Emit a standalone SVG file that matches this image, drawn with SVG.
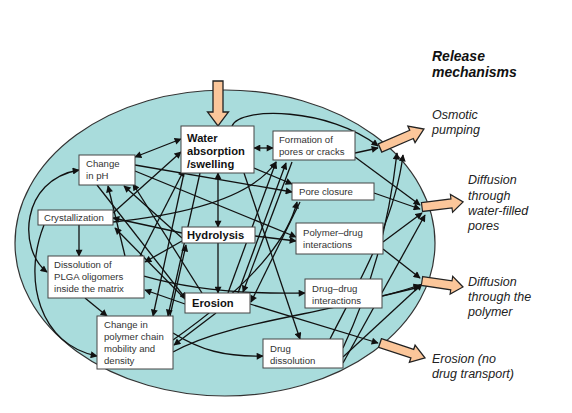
<svg xmlns="http://www.w3.org/2000/svg" width="572" height="413" viewBox="0 0 572 413">
<style>
.c{fill:none;stroke:#111;stroke-width:1.3}
.a{marker-end:url(#ah)}
.b{marker-start:url(#ah);marker-end:url(#ah)}
.box{fill:#fff;stroke:#444;stroke-width:1}
.t{font-family:"Liberation Sans",Arial,sans-serif;font-size:9.6px;fill:#333}
.tb{font-family:"Liberation Sans",Arial,sans-serif;font-size:11.2px;font-weight:bold;fill:#111}
.ti{font-family:"Liberation Sans",Arial,sans-serif;font-size:12.5px;font-style:italic;fill:#222}
.th{font-family:"Liberation Sans",Arial,sans-serif;font-size:14px;font-style:italic;font-weight:bold;fill:#111}
.fat{fill:#fbc69a;stroke:#222;stroke-width:1.3}
</style>
<defs>
<marker id="ah" viewBox="0 0 10 10" refX="9" refY="5" markerWidth="8" markerHeight="7" orient="auto-start-reverse" markerUnits="userSpaceOnUse"><path d="M0,0 L10,5 L0,10 z" fill="#111"/></marker>
<path id="fa" d="M0,-4.5 H33 V-9 L46,0 L33,9 V4.5 H0 Z"/>
</defs>
<rect width="572" height="413" fill="#fff"/>
<ellipse id="matrix" cx="225" cy="243" rx="210" ry="153" fill="#a9dcdc" stroke="#333" stroke-width="1.2"/>

<g id="connectors">
<path class="c b" d="M135,157 L181,139"/>
<path class="c b" d="M254,148 L273,148"/>
<path class="c b" d="M218,173 L218,227"/>
<path class="c a" d="M218,243 L218,293"/>
<path class="c a" d="M79,225 L79,256"/>
<path class="c a" d="M85,298 L107,316"/>
<path class="c a" d="M216,313 L174,345"/>
<path class="c a" d="M232,126 C240,106 330,108 378,146"/>
<path class="c a" d="M355,153 L378,148"/>
<path class="c a" d="M355,157 L420,205"/>
<path class="c a" d="M374,193 L420,209"/>
<path class="c a" d="M383,242 L422,213"/>
<path class="c a" d="M383,249 L420,278"/>
<path class="c a" d="M382,296 L420,287"/>
<path class="c a" d="M343,363 L425,215"/>
<path class="c a" d="M343,357 L422,284"/>
<path class="c a" d="M343,348 C370,290 388,230 397,153"/>
<path class="c a" d="M330,339 C360,280 395,220 403,155"/>
<path class="c a" d="M250,304 L378,343"/>
<path class="c a" d="M135,165 L292,192"/>
<path class="c a" d="M135,171 L296,237"/>
<path class="c a" d="M254,168 L292,184"/>
<path class="c a" d="M255,236 L296,241"/>
<path class="c a" d="M144,276 C200,292 260,294 305,293"/>
<path class="c a" d="M244,173 L300,339"/>
<path class="c a" d="M228,293 L276,162"/>
<path class="c a" d="M238,293 L286,163"/>
<path class="c a" d="M292,162 L243,292"/>
<path class="c a" d="M300,202 L251,302"/>
<path class="c a" d="M182,233 L113,218"/>
<path class="c a" d="M186,300 L115,228"/>
<path class="c a" d="M185,304 L145,290"/>
<path class="c a" d="M182,241 L145,262"/>
<path class="c a" d="M184,173 L153,316"/>
<path class="c a" d="M200,173 L168,316"/>
<path class="c a" d="M170,316 L186,245"/>
<path class="c a" d="M125,256 L108,186"/>
<path class="c a" d="M182,238 L124,186"/>
<path class="c a" d="M202,293 L133,184"/>
<path class="c a" d="M97,185 L186,299"/>
<path class="c a" d="M113,213 L181,152"/>
<path class="c a" d="M140,256 L184,170"/>
<path class="c a" d="M113,222 C180,215 250,200 276,162"/>
<path class="c a" d="M44,225 C22,280 40,345 97,356"/>
<path class="c b" d="M47,272 C18,250 20,180 79,170"/>
<path class="c a" d="M173,352 C230,320 330,315 420,285"/>
<path class="c a" d="M173,333 C200,350 225,357 263,356"/>
<path class="c a" d="M173,340 C230,300 285,250 297,202"/>
</g>

<g id="water-arrow"><path class="fat" d="M213,81 H223 V112 H228.5 L218,126 L207.5,112 H213 Z"/></g>
<g id="release-arrows">
<use href="#fa" class="fat" transform="translate(380,148) rotate(-23.4) scale(1.04,1)" style="vector-effect:non-scaling-stroke"/>
<use href="#fa" class="fat" transform="translate(422,207) rotate(-7) scale(0.9,1)"/>
<use href="#fa" class="fat" transform="translate(422,281) rotate(8.3) scale(0.9,1)"/>
<use href="#fa" class="fat" transform="translate(380,343) rotate(18.4) scale(1.03,1)"/>
</g>

<g id="water"><rect class="box" x="181" y="126" width="73" height="47"/><text class="tb" x="187" y="142">Water</text><text class="tb" x="187" y="155">absorption</text><text class="tb" x="187" y="168">/swelling</text></g>
<g id="pores"><rect class="box" x="273" y="131" width="82" height="29"/><text class="t" x="279" y="143">Formation of</text><text class="t" x="279" y="155">pores or cracks</text></g>
<g id="ph"><rect class="box" x="79" y="155" width="56" height="30"/><text class="t" x="86" y="167">Change</text><text class="t" x="86" y="179">in pH</text></g>
<g id="closure"><rect class="box" x="292" y="183" width="82" height="17"/><text class="t" x="299" y="195">Pore closure</text></g>
<g id="crystal"><rect class="box" x="38" y="210" width="75" height="15"/><text class="t" x="44" y="221">Crystallization</text></g>
<g id="hydrolysis"><rect class="box" x="182" y="227" width="73" height="16"/><text class="tb" x="187" y="239">Hydrolysis</text></g>
<g id="polydrug"><rect class="box" x="296" y="223" width="87" height="31"/><text class="t" x="303" y="236">Polymer–drug</text><text class="t" x="303" y="248">interactions</text></g>
<g id="dissol"><rect class="box" x="48" y="256" width="96" height="42"/><text class="t" x="54" y="268">Dissolution of</text><text class="t" x="54" y="280">PLGA oligomers</text><text class="t" x="54" y="292">inside the matrix</text></g>
<g id="drugdrug"><rect class="box" x="305" y="279" width="77" height="29"/><text class="t" x="312" y="292">Drug–drug</text><text class="t" x="312" y="304">interactions</text></g>
<g id="erosion"><rect class="box" x="185" y="293" width="65" height="20"/><text class="tb" x="192" y="307">Erosion</text></g>
<g id="chain"><rect class="box" x="97" y="316" width="76" height="53"/><text class="t" x="104" y="328">Change in</text><text class="t" x="104" y="340">polymer chain</text><text class="t" x="104" y="352">mobility and</text><text class="t" x="104" y="364">density</text></g>
<g id="drugdis"><rect class="box" x="263" y="339" width="80" height="29"/><text class="t" x="270" y="352">Drug</text><text class="t" x="270" y="364">dissolution</text></g>

<g id="labels">
<text class="th" x="432" y="61">Release</text>
<text class="th" x="432" y="77">mechanisms</text>
<text class="ti" x="432" y="119">Osmotic</text>
<text class="ti" x="432" y="134">pumping</text>
<text class="ti" x="468" y="184">Diffusion</text>
<text class="ti" x="468" y="200">through</text>
<text class="ti" x="468" y="215">water-filled</text>
<text class="ti" x="468" y="230">pores</text>
<text class="ti" x="468" y="286">Diffusion</text>
<text class="ti" x="468" y="301">through the</text>
<text class="ti" x="468" y="316">polymer</text>
<text class="ti" x="432" y="363">Erosion (no</text>
<text class="ti" x="432" y="378">drug transport)</text>
</g>
</svg>
